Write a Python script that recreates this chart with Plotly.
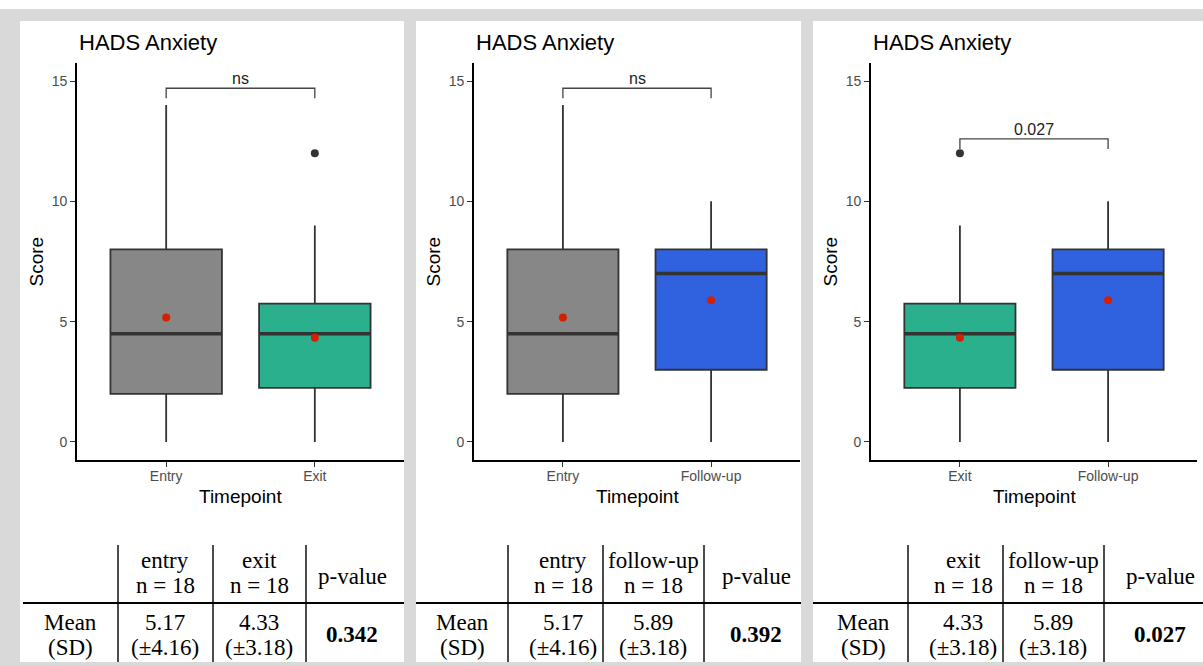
import plotly.graph_objects as go

W, H = 1203, 666

# ---- data -------------------------------------------------------------
timepoints = ["Entry", "Exit", "Follow-up"]
table_names = ["entry", "exit", "follow-up"]
box_q1 = [2.0, 2.25, 3.0]
box_median = [4.5, 4.5, 7.0]
box_q3 = [8.0, 5.75, 8.0]
whisker_low = [0, 0, 0]
whisker_high = [14, 9, 10]
outliers = [[], [12], []]
group_mean = [5.17, 4.33, 5.89]
group_sd = [4.16, 3.18, 3.18]
group_n = [18, 18, 18]

comparisons = [(0, 1), (0, 2), (1, 2)]
p_values = ["0.342", "0.392", "0.027"]
bracket_labels = ["ns", "ns", "0.027"]
bracket_level = [14.7, 14.7, 12.6]

y_ticks = [0, 5, 10, 15]

# ---- style ------------------------------------------------------------
fill_colors = ["#878787", "#2bb08e", "#3062e0"]
BG = "#d9d9d9"
SANS = "Liberation Sans, Arial, sans-serif"
SERIF = "Liberation Serif, Times New Roman, serif"
BOX_W = 0.75
TIP = 0.42

panel_x = [(20, 404), (416, 801), (813, 1203)]
panel_y = (21, 662)
axis_x = [(77, 404), (474, 800), (871, 1197)]
axis_y = (63, 460)

# table geometry (pixels)
table_lines_x = [(118, 213, 306), (508, 603, 704), (908, 1003, 1104)]
table_left = [23, 416, 813]
table_text_x = [(70, 165, 259, 352), (463, 563, 653, 756), (863, 963, 1053, 1160)]
TBL_TOP, TBL_MID = 545, 603


def fx(p):
    return p / W


def fy(p):
    return 1 - p / H


fig = go.Figure()
shapes = []
annotations = []

# white top strip and white panels
shapes.append(dict(type="rect", xref="paper", yref="paper", x0=0, x1=1,
                   y0=fy(9), y1=1, fillcolor="white", line_width=0, layer="below"))
for (x0, x1) in panel_x:
    shapes.append(dict(type="rect", xref="paper", yref="paper",
                       x0=fx(x0), x1=fx(x1), y0=fy(panel_y[1]), y1=fy(panel_y[0]),
                       fillcolor="white", line_width=0, layer="below"))

for i, (a, b) in enumerate(comparisons):
    xa = "x" if i == 0 else f"x{i + 1}"
    ya = "y" if i == 0 else f"y{i + 1}"
    xkey = "xaxis" if i == 0 else f"xaxis{i + 1}"
    ykey = "yaxis" if i == 0 else f"yaxis{i + 1}"

    for pos, g in ((1, a), (2, b)):
        fig.add_trace(go.Box(
            x=[pos], q1=[box_q1[g]], median=[box_median[g]], q3=[box_q3[g]],
            lowerfence=[whisker_low[g]], upperfence=[whisker_high[g]],
            width=BOX_W, whiskerwidth=0, boxpoints=False,
            fillcolor=fill_colors[g], line=dict(color="#333333", width=1.8),
            xaxis=xa, yaxis=ya, showlegend=False, hoverinfo="skip"))
        # thicker median bar
        fig.add_trace(go.Scatter(
            x=[pos - BOX_W / 2, pos + BOX_W / 2], y=[box_median[g], box_median[g]],
            mode="lines", line=dict(color="#333333", width=3.6),
            xaxis=xa, yaxis=ya, showlegend=False, hoverinfo="skip"))
        if outliers[g]:
            fig.add_trace(go.Scatter(
                x=[pos] * len(outliers[g]), y=outliers[g], mode="markers",
                marker=dict(color="#333333", size=8),
                xaxis=xa, yaxis=ya, showlegend=False, hoverinfo="skip"))
        fig.add_trace(go.Scatter(
            x=[pos], y=[group_mean[g]], mode="markers",
            marker=dict(color="#d42000", size=8),
            xaxis=xa, yaxis=ya, showlegend=False, hoverinfo="skip"))

    # significance bracket
    lvl = bracket_level[i]
    fig.add_trace(go.Scatter(
        x=[1, 1, 2, 2], y=[lvl - TIP, lvl, lvl, lvl - TIP], mode="lines",
        line=dict(color="#444444", width=1.3),
        xaxis=xa, yaxis=ya, showlegend=False, hoverinfo="skip"))
    annotations.append(dict(x=1.5, y=lvl, xref=xa, yref=ya, text=bracket_labels[i],
                            showarrow=False, yanchor="bottom", yshift=-1,
                            font=dict(family=SANS, size=16, color="#222222")))

    ax0, ax1 = axis_x[i]
    fig.layout[xkey] = dict(
        domain=[fx(ax0), fx(ax1)], anchor=ya, range=[0.4, 2.6],
        tickvals=[1, 2], ticktext=[timepoints[a], timepoints[b]],
        showline=True, linecolor="black", linewidth=1.8, ticks="outside",
        ticklen=5, tickcolor="#333333", tickwidth=1.3, ticklabelstandoff=-3,
        tickfont=dict(family=SANS, size=14, color="#4d4d4d"),
        showgrid=False, zeroline=False, fixedrange=True)
    fig.layout[ykey] = dict(
        domain=[fy(axis_y[1]), fy(axis_y[0])], anchor=xa, range=[-0.75, 15.75],
        tickvals=y_ticks, showline=True, linecolor="black", linewidth=1.8,
        ticks="outside", ticklen=5, tickcolor="#333333", tickwidth=1.3,
        tickfont=dict(family=SANS, size=14, color="#4d4d4d"),
        showgrid=False, zeroline=False, fixedrange=True)

    # titles
    annotations.append(dict(x=fx(ax0), y=fy(42), xref="paper", yref="paper",
                            text="HADS Anxiety", showarrow=False,
                            xanchor="left", yanchor="middle",
                            font=dict(family=SANS, size=22, color="black")))
    annotations.append(dict(x=fx(ax0 - 41), y=fy((axis_y[0] + axis_y[1]) / 2),
                            xref="paper", yref="paper", text="Score", textangle=-90,
                            showarrow=False, xanchor="center", yanchor="middle",
                            font=dict(family=SANS, size=19, color="black")))
    annotations.append(dict(x=fx((ax0 + ax1) / 2), y=fy(496), xref="paper", yref="paper",
                            text="Timepoint", showarrow=False,
                            xanchor="center", yanchor="middle",
                            font=dict(family=SANS, size=19, color="black")))

    # summary table
    for lx in table_lines_x[i]:
        shapes.append(dict(type="line", xref="paper", yref="paper",
                           x0=fx(lx), x1=fx(lx), y0=fy(panel_y[1]), y1=fy(TBL_TOP),
                           line=dict(color="black", width=1.4)))
    shapes.append(dict(type="line", xref="paper", yref="paper",
                       x0=fx(table_left[i]), x1=fx(panel_x[i][1]),
                       y0=fy(TBL_MID), y1=fy(TBL_MID),
                       line=dict(color="black", width=2)))

    tx = table_text_x[i]

    def cell(x, y, text):
        annotations.append(dict(x=fx(x), y=fy(y), xref="paper", yref="paper",
                                text=text, showarrow=False,
                                xanchor="center", yanchor="middle",
                                font=dict(family=SERIF, size=23, color="black")))

    for col, g in ((1, a), (2, b)):
        cell(tx[col], 560, table_names[g])
        cell(tx[col], 585, f"n = {group_n[g]}")
        cell(tx[col], 622, f"{group_mean[g]:.2f}")
        cell(tx[col], 647, f"(±{group_sd[g]:.2f})")
    cell(tx[3], 576, "p-value")
    cell(tx[0], 622, "Mean")
    cell(tx[0], 647, "(SD)")
    cell(tx[3], 634, f"<b>{p_values[i]}</b>")

fig.update_layout(
    width=W, height=H, margin=dict(l=0, r=0, t=0, b=0),
    paper_bgcolor=BG, plot_bgcolor="white",
    shapes=shapes, annotations=annotations, showlegend=False,
    boxmode="overlay",
)

fig.write_html("out.html")
